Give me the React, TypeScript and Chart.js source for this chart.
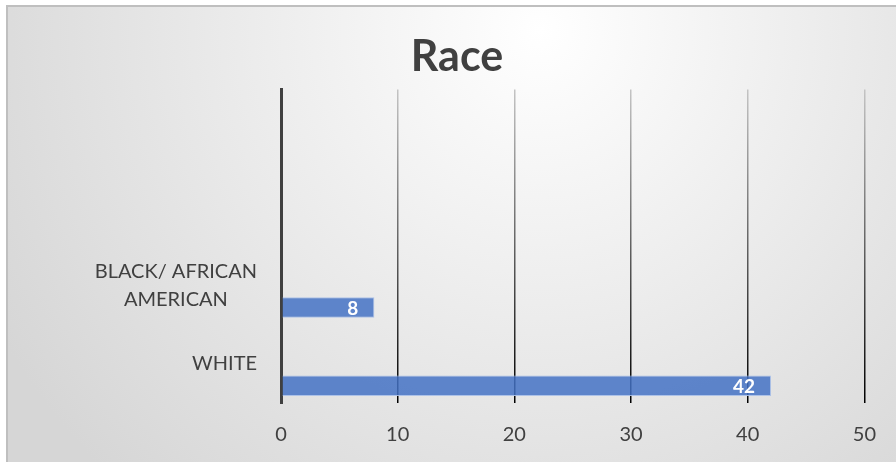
import React, { useEffect, useRef } from "react";
import { Chart, registerables } from "chart.js";

Chart.register(...registerables);

const titleText = "Race";
const categories: (string | string[])[] = ["", "", ["BLACK/ AFRICAN", "AMERICAN"], "WHITE"];
const emptySeriesA: (number | null)[] = [null, null, null, null];
const emptySeriesB: (number | null)[] = [null, null, null, null];
const raceCounts: (number | null)[] = [null, null, 8, 42];
const axisMin = 0;
const axisMax = 50;
const axisStep = 10;

const FONT = "Lato, 'Open Sans', sans-serif";
const TEXT = "#404040";

const backgroundPlugin = {
  id: "bgPanel",
  beforeDraw(chart: any) {
    const { ctx, width, height } = chart;
    ctx.save();
    ctx.fillStyle = "#ffffff";
    ctx.fillRect(0, 0, width, height);
    const g = ctx.createRadialGradient(540, 30, 0, 540, 30, 620);
    g.addColorStop(0, "#ffffff");
    g.addColorStop(1, "#d6d6d6");
    ctx.fillStyle = g;
    ctx.fillRect(8, 7, width - 8, height - 7);
    ctx.strokeStyle = "#bfbfbf";
    ctx.lineWidth = 2;
    ctx.beginPath();
    ctx.moveTo(7, height + 5);
    ctx.lineTo(7, 6);
    ctx.lineTo(width + 5, 6);
    ctx.stroke();
    ctx.restore();
  },
};

// Category labels: block right-aligned to the axis, lines centred within the block (Office style)
const categoryLabelPlugin = {
  id: "categoryLabels",
  afterDraw(chart: any) {
    const { ctx, chartArea } = chart;
    const yScale = chart.scales.y;
    const lineH = 28;
    ctx.save();
    ctx.font = `20px ${FONT}`;
    ctx.fillStyle = TEXT;
    ctx.textAlign = "center";
    ctx.textBaseline = "middle";
    const right = chartArea.left - 24;
    (chart.data.labels as any[]).forEach((lab: any, i: number) => {
      const lines: string[] = Array.isArray(lab) ? lab : [String(lab)];
      if (!lines.join("").trim()) return;
      const blockW = Math.max(...lines.map((l) => ctx.measureText(l).width));
      const cx = right - blockW / 2;
      const cy = yScale.getPixelForTick(i);
      const startY = cy - ((lines.length - 1) * lineH) / 2;
      lines.forEach((l, k) => ctx.fillText(l, cx, startY + k * lineH));
    });
    ctx.restore();
  },
};

const valueLabelPlugin = {
  id: "valueLabels",
  afterDatasetsDraw(chart: any) {
    const { ctx } = chart;
    ctx.save();
    ctx.font = `bold 19px ${FONT}`;
    ctx.fillStyle = "#ffffff";
    ctx.textAlign = "right";
    ctx.textBaseline = "middle";
    chart.data.datasets.forEach((ds: any, di: number) => {
      const meta = chart.getDatasetMeta(di);
      meta.data.forEach((el: any, i: number) => {
        const v = ds.data[i];
        if (v === null || v === undefined) return;
        ctx.fillText(String(v), el.x - 16, el.y + 1);
      });
    });
    ctx.restore();
  },
};

export default function App() {
  const ref = useRef<HTMLCanvasElement | null>(null);

  useEffect(() => {
    document.body.style.margin = "0";
    if (!ref.current) return;
    const gridColor = (c: any) => {
      if (c.tick && c.tick.value === 0) return "#404040";
      const { chart } = c;
      const area = chart.chartArea;
      if (!area) return "#888888";
      const g = chart.ctx.createLinearGradient(0, area.top, 0, area.bottom);
      g.addColorStop(0, "#c4c4c4");
      g.addColorStop(1, "#000000");
      return g;
    };
    const chart = new Chart(ref.current, {
      type: "bar",
      data: {
        labels: categories,
        datasets: [
          { label: "A", data: emptySeriesA, backgroundColor: "rgba(68,114,196,0.85)" },
          { label: "B", data: emptySeriesB, backgroundColor: "rgba(68,114,196,0.85)" },
          {
            label: "Race",
            data: raceCounts,
            backgroundColor: "rgba(68,114,196,0.85)",
            borderColor: "rgba(170,192,232,0.95)",
            borderWidth: 1,
          },
        ],
      },
      options: {
        indexAxis: "y",
        animation: false,
        responsive: false,
        maintainAspectRatio: false,
        categoryPercentage: 0.84,
        barPercentage: 0.935,
        layout: { padding: { left: 48, right: 30, top: 6, bottom: 0 } },
        plugins: {
          legend: { display: false },
          tooltip: { enabled: false },
          title: {
            display: true,
            text: titleText,
            color: TEXT,
            font: { family: FONT, size: 43, weight: "bold" },
            padding: { top: 25, bottom: 7 },
          },
        },
        scales: {
          x: {
            min: axisMin,
            max: axisMax,
            ticks: {
              stepSize: axisStep,
              color: TEXT,
              font: { family: FONT, size: 20 },
              padding: 20,
            },
            grid: { color: gridColor, lineWidth: (c: any) => (c.tick && c.tick.value === 0 ? 3 : 1.5), drawTicks: false },
            border: { display: false },
            afterFit: (s: any) => {
              s.height = 59;
            },
          },
          y: {
            ticks: { display: false },
            grid: { display: false, drawTicks: false },
            border: { display: true, color: "#404040", width: 3 },
            afterFit: (s: any) => {
              s.width = 233;
            },
          },
        },
      },
      plugins: [backgroundPlugin, valueLabelPlugin, categoryLabelPlugin],
    } as any);
    return () => chart.destroy();
  }, []);

  return <canvas ref={ref} width={896} height={462} style={{ display: "block" }} />;
}
